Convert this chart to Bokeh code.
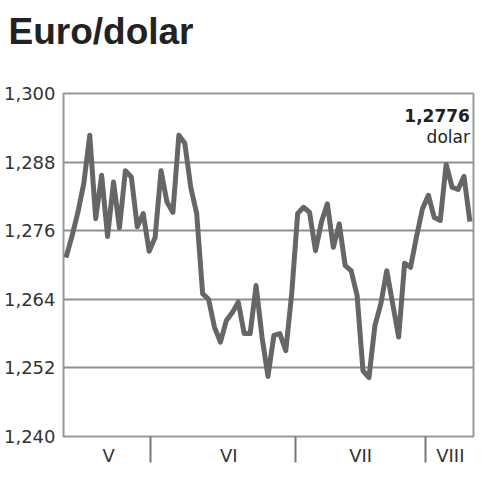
from bokeh.plotting import figure
from bokeh.models import FixedTicker, CustomJSTickFormatter, Label, Range1d
from bokeh.embed import file_html
from bokeh.resources import INLINE

# ---- data ----
title_text = "Euro/dolar"
unit_text = "dolar"
day_index = list(range(69))
eur_usd = [
    1.2713, 1.2750, 1.2792, 1.2843, 1.2927, 1.2781, 1.2857, 1.2750, 1.2845, 1.2765,
    1.2865, 1.2854, 1.2767, 1.2790, 1.2724, 1.2748, 1.2865, 1.2810, 1.2792, 1.2927,
    1.2913, 1.2836, 1.2790, 1.2650, 1.2640, 1.2591, 1.2565, 1.2603, 1.2617, 1.2635,
    1.2580, 1.2580, 1.2664, 1.2574, 1.2505, 1.2577, 1.2580, 1.2550, 1.2650, 1.2790,
    1.2801, 1.2792, 1.2725, 1.2775, 1.2807, 1.2731, 1.2772, 1.2699, 1.2690, 1.2647,
    1.2515, 1.2503, 1.2594, 1.2632, 1.2690, 1.2632, 1.2574, 1.2703, 1.2696, 1.2749,
    1.2798, 1.2822, 1.2783, 1.2778, 1.2876, 1.2836, 1.2832, 1.2855, 1.2776,
]
y_ticks = [1.240, 1.252, 1.264, 1.276, 1.288, 1.300]
month_labels = ["V", "VI", "VII", "VIII"]
month_label_pos = [7.2, 27.4, 49.6, 64.7]
month_boundaries = [14.2, 38.6, 60.5]

p = figure(
    width=478, height=478,
    output_backend="svg", toolbar_location=None,
    x_range=Range1d(-0.42, 68.6), y_range=Range1d(1.240, 1.300),
    min_border_left=63, min_border_right=5, min_border_top=93, min_border_bottom=42,
    background_fill_color="white", border_fill_color="white",
)

# title (a second, blank line gives the title panel room so the text sits high)
p.title.text = title_text + "\n "
p.title.text_font = "Liberation Sans"
p.title.text_font_style = "bold"
p.title.text_font_size = "37px"
p.title.text_color = "#222222"
p.title.align = "left"
p.title.vertical_align = "top"
p.title.offset = -55
p.title.standoff = -3

# y axis
p.yaxis.ticker = FixedTicker(ticks=y_ticks)
p.yaxis.formatter = CustomJSTickFormatter(code="return tick.toFixed(3).replace('.', ',');")
p.yaxis.major_tick_out = 0
p.yaxis.major_tick_in = 0
p.yaxis.minor_tick_out = 0
p.yaxis.minor_tick_in = 0
p.yaxis.axis_line_color = None
p.yaxis.major_label_standoff = 8
p.yaxis.major_label_text_font = "DejaVu Sans"
p.yaxis.major_label_text_font_size = "18px"
p.yaxis.major_label_text_color = "#333333"

# x axis
p.xaxis.ticker = FixedTicker(ticks=month_label_pos, minor_ticks=month_boundaries)
p.xaxis.formatter = CustomJSTickFormatter(
    args=dict(pos=month_label_pos, labels=month_labels),
    code="for (let i = 0; i < pos.length; i++) { if (Math.abs(pos[i] - tick) < 1e-6) return labels[i]; } return '';",
)
p.xaxis.major_tick_out = 0
p.xaxis.major_tick_in = 0
p.xaxis.minor_tick_out = 26
p.xaxis.minor_tick_in = 0
p.xaxis.minor_tick_line_color = "#777777"
p.xaxis.minor_tick_line_width = 2
p.xaxis.axis_line_color = None
p.xaxis.major_label_standoff = -18
p.xaxis.major_label_text_font = "DejaVu Sans"
p.xaxis.major_label_text_font_size = "18px"
p.xaxis.major_label_text_color = "#333333"

# grid & frame
p.xgrid.visible = False
p.ygrid.grid_line_color = "#8f8f8f"
p.ygrid.grid_line_width = 2
p.outline_line_color = "#999999"
p.outline_line_width = 2

p.line(day_index, eur_usd, line_color="#666666", line_width=5, line_join="round")

last_text = f"{eur_usd[-1]:.4f}".replace(".", ",")
p.add_layout(Label(x=day_index[-1], y=1.2961, text=last_text, text_align="right",
                   text_baseline="middle", text_font="DejaVu Sans", text_font_style="bold",
                   text_font_size="17px", text_color="#222222"))
p.add_layout(Label(x=day_index[-1], y=1.2924, text=unit_text, text_align="right",
                   text_baseline="middle", text_font="DejaVu Sans",
                   text_font_size="17px", text_color="#222222"))

open("out.html", "w").write(file_html(p, INLINE))
